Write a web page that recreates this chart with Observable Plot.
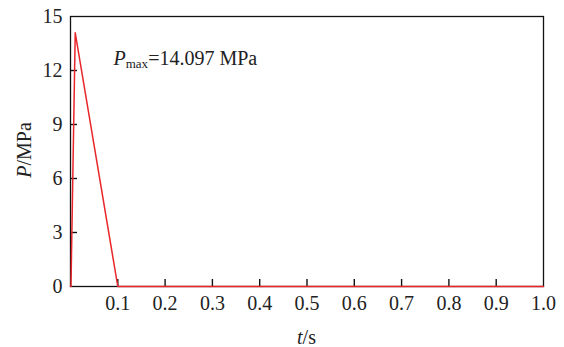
<!DOCTYPE html>
<html>
<head>
<meta charset="utf-8">
<script src="https://cdn.jsdelivr.net/npm/d3@7"></script>
<script src="https://cdn.jsdelivr.net/npm/@observablehq/plot@0.6"></script>
<style>
  body { margin: 0; background: #fff; }
  svg { font-family: "Liberation Serif", "Times New Roman", serif; }
</style>
</head>
<body>
<div id="chart"></div>
<script>
const timeS = [0, 0.001, 0.010, 0.100, 1.0];
const pressureMPa = [0, 0, 14.097, 0, 0];
const xTicks = [0.1, 0.2, 0.3, 0.4, 0.5, 0.6, 0.7, 0.8, 0.9, 1.0];
const yTicks = [0, 3, 6, 9, 12, 15];
const pmaxLabel = { t: 0.092, p: 12.3, value: "=14.097 MPa" };

const data = timeS.map((t, i) => ({ t, p: pressureMPa[i] }));

const W = 564, H = 347, ML = 70, MR = 21, MT = 16, MB = 61;
const TICK = 7;
const xDomain = [0, 1], yDomain = [0, 15];
const tickLenY = TICK * (yDomain[1] - yDomain[0]) / (H - MT - MB);
const tickLenX = TICK * (xDomain[1] - xDomain[0]) / (W - ML - MR);

const plot = Plot.plot({
  width: W,
  height: H,
  marginLeft: ML,
  marginRight: MR,
  marginTop: MT,
  marginBottom: MB,
  style: { fontFamily: '"Liberation Serif", serif', fontSize: "20px", color: "#222" },
  x: { domain: xDomain, label: null },
  y: { domain: yDomain, label: null },
  marks: [
    Plot.axisX({ ticks: xTicks, tickFormat: d3.format(".1f"), tickSize: 0, tickPadding: 9, fontSize: 20 }),
    Plot.axisY({ ticks: yTicks, tickSize: 0, tickPadding: 8, fontSize: 20 }),
    Plot.ruleX(xTicks.slice(0, -1), { x: d => d, y1: yDomain[0], y2: yDomain[0] + tickLenY, stroke: "#111", strokeWidth: 1.4 }),
    Plot.ruleY(yTicks.slice(1, -1), { y: d => d, x1: xDomain[0], x2: xDomain[0] + tickLenX, stroke: "#111", strokeWidth: 1.4 }),
    Plot.frame({ stroke: "#111", strokeWidth: 1.3 }),
    Plot.line(data, { x: "t", y: "p", stroke: "#e8262b", strokeWidth: 1.5 })
  ]
});

document.getElementById("chart").appendChild(plot);

const svg = d3.select(plot);
const xs = plot.scale("x"), ys = plot.scale("y");

// Pmax annotation
const ann = svg.append("text")
  .attr("x", xs.apply(pmaxLabel.t))
  .attr("y", ys.apply(pmaxLabel.p))
  .attr("text-anchor", "start")
  .attr("font-size", 20)
  .attr("fill", "#222");
ann.append("tspan").attr("font-style", "italic").text("P");
ann.append("tspan").attr("font-size", 13).attr("dy", 3).text("max");
ann.append("tspan").attr("dy", -3).text(pmaxLabel.value);

// y axis label
const yl = svg.append("text")
  .attr("transform", `translate(31, 150) rotate(-90)`)
  .attr("text-anchor", "middle")
  .attr("font-size", 20)
  .attr("fill", "#222");
yl.append("tspan").attr("font-style", "italic").text("P");
yl.append("tspan").text("/MPa");

// x axis label
const xl = svg.append("text")
  .attr("x", (ML + W - MR) / 2)
  .attr("y", 344)
  .attr("text-anchor", "middle")
  .attr("font-size", 20)
  .attr("fill", "#222");
xl.append("tspan").attr("font-style", "italic").text("t");
xl.append("tspan").text("/s");
</script>
</body>
</html>
